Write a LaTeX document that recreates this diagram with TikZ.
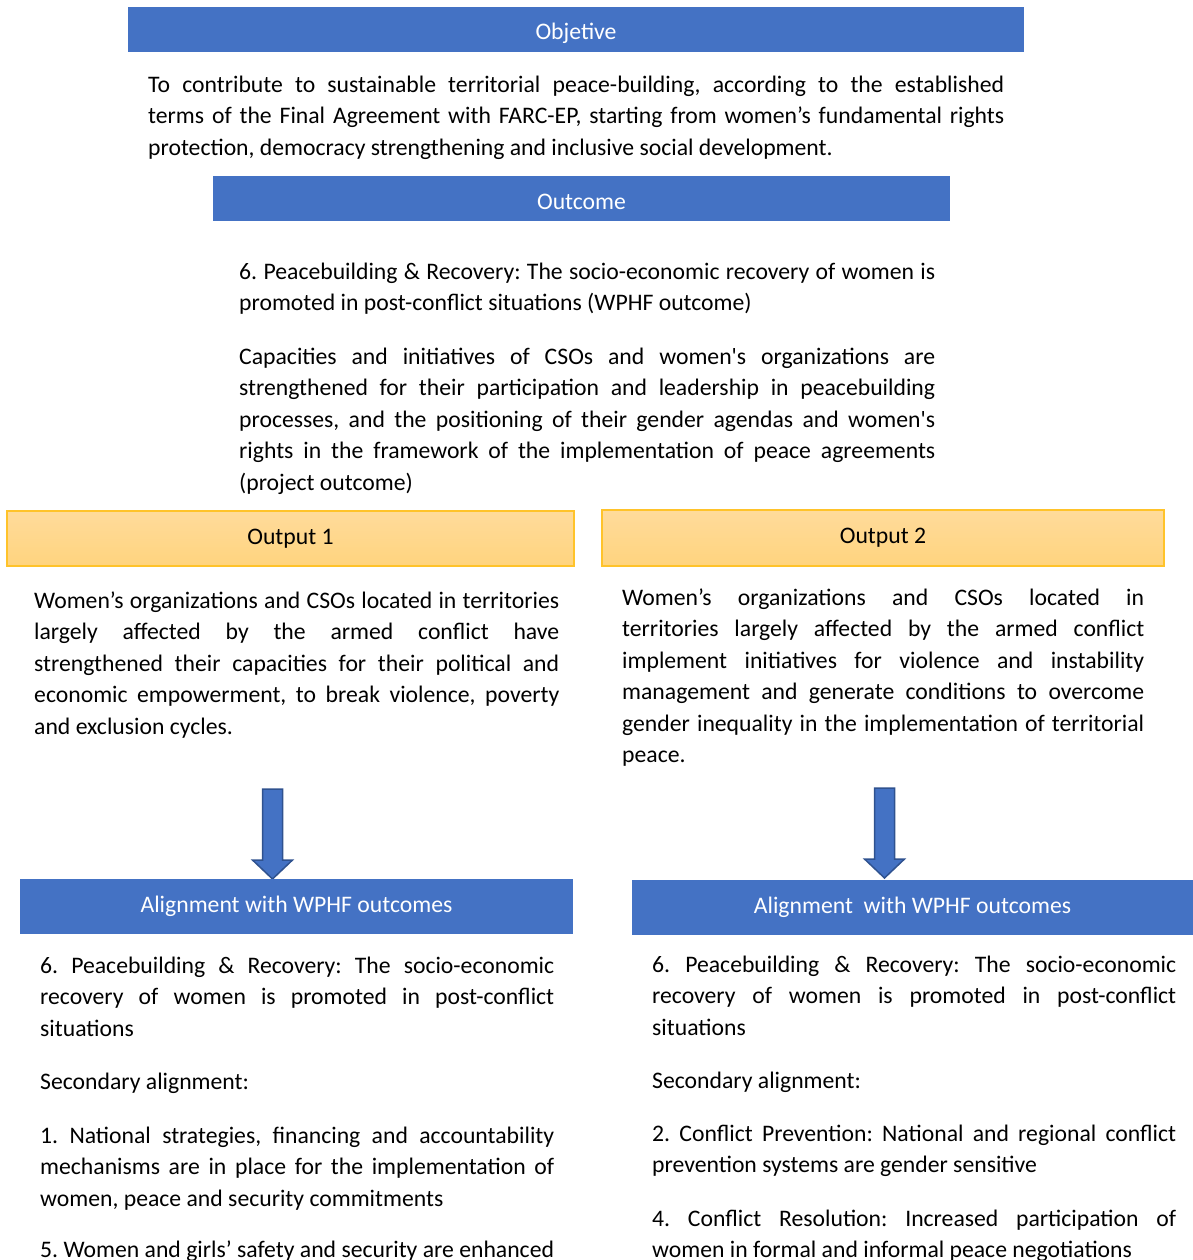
\documentclass[tikz,border=0pt]{standalone}
\usepackage{fontspec}
\setmainfont{Carlito}
\frenchspacing
\definecolor{barblue}{HTML}{4472C4}
\definecolor{arrowedge}{HTML}{2F528F}
\definecolor{outtop}{HTML}{FFDB9B}
\definecolor{outbot}{HTML}{FFD47E}
\definecolor{outedge}{HTML}{FFC32A}
\newcommand{\bodysize}{\fontsize{23.7}{31.5}\selectfont}

\begin{document}
\begin{tikzpicture}[x=1pt,y=-1pt,
    bluebar/.style={rectangle, fill=barblue, text=white, font=\bodysize, inner sep=0pt},
    outbar/.style={rectangle, draw=outedge, line width=1.2pt,
                   top color=outtop, bottom color=outbot, font=\bodysize, inner sep=0pt},
    para/.style={anchor=north west, inner sep=0pt, align=justify, font=\bodysize},
    blockarrow/.style={fill=barblue, draw=arrowedge, line width=1.5pt, line join=miter}]

    \useasboundingbox (0,0) rectangle (1193,1260);
    \clip (0,0) rectangle (1193,1260);

    % objective
    \node[bluebar,
          text height = 21pt,
          text depth = 0pt,
          minimum width = 896,
          minimum height = 45] (obj) at (576,29.5) {Objetive};
    \node[para, text width = 856] (objtxt) at (148,70)
    {\strut To contribute to sustainable territorial peace-building, according to the established\linebreak
     terms of the Final Agreement with FARC-EP, starting from women’s fundamental rights\linebreak
     protection, democracy strengthening and inclusive social development.};

    % outcome
    \node[bluebar,
          text height = 21pt,
          text depth = 0pt,
          minimum width = 737,
          minimum height = 45] (outc) at (581.5,198.5) {Outcome};
    \node[para, text width = 696] (outctxt) at (239,257)
    {\strut 6. Peacebuilding \& Recovery: The socio-economic recovery of women is\linebreak
     promoted in post-conflict situations (WPHF outcome)};
    \node[para, text width = 696] (projtxt) at (239,342)
    {\strut Capacities and initiatives of CSOs and women\textquotesingle s organizations are\linebreak
     strengthened for their participation and leadership in peacebuilding\linebreak
     processes, and the positioning of their gender agendas and women\textquotesingle s\linebreak
     rights in the framework of the implementation of peace agreements\linebreak
     (project outcome)};

    % outputs
    \node[outbar,
          minimum width = 567,
          minimum height = 55] (outA) at (290.5,538.5) {Output 1};
    \node[para, text width = 525] (outAtxt) at (34,586)
    {\strut Women’s organizations and CSOs located in territories\linebreak
     largely affected by the armed conflict have\linebreak
     strengthened their capacities for their political and\linebreak
     economic empowerment, to break violence, poverty\linebreak
     and exclusion cycles.};

    \node[outbar,
          minimum width = 562,
          minimum height = 56] (outB) at (883,538) {Output 2};
    \node[para, text width = 522] (outBtxt) at (622,583)
    {\strut Women’s organizations and CSOs located in\linebreak
     territories largely affected by the armed conflict\linebreak
     implement initiatives for violence and instability\linebreak
     management and generate conditions to overcome\linebreak
     gender inequality in the implementation of territorial\linebreak
     peace.};

    % arrows down to the alignment bars
    \coordinate (tipA) at (272.5,879);
    \coordinate (tipB) at (884.5,878);
    \draw[blockarrow] (tipA) -- ++(-20,-19) -- ++(10,0) -- ++(0,-71)
        -- ++(20,0) -- ++(0,71) -- ++(10,0) -- cycle;
    \draw[blockarrow] (tipB) -- ++(-20,-19) -- ++(10,0) -- ++(0,-71)
        -- ++(20,0) -- ++(0,71) -- ++(10,0) -- cycle;

    % alignment, left
    \node[bluebar,
          minimum width = 553,
          minimum height = 55] (alA) at (296.5,906.5) {Alignment with WPHF outcomes};
    \node[para, text width = 514] (alA1) at (40,951)
    {\strut 6. Peacebuilding \& Recovery: The socio-economic\linebreak
     recovery of women is promoted in post-conflict\linebreak
     situations};
    \node[para, text width = 514] (alA2) at (40,1067) {\strut Secondary alignment:};
    \node[para, text width = 514] (alA3) at (40,1121)
    {\strut 1. National strategies, financing and accountability\linebreak
     mechanisms are in place for the implementation of\linebreak
     women, peace and security commitments};
    \node[para, text width = 514] (alA4) at (40,1235)
    {\strut 5. Women and girls’ safety and security are enhanced};

    % alignment, right
    \node[bluebar,
          minimum width = 561,
          minimum height = 55] (alB) at (912.5,907.5) {Alignment\ \ with WPHF outcomes};
    \node[para, text width = 524] (alB1) at (652,950)
    {\strut 6. Peacebuilding \& Recovery: The socio-economic\linebreak
     recovery of women is promoted in post-conflict\linebreak
     situations};
    \node[para, text width = 524] (alB2) at (652,1066) {\strut Secondary alignment:};
    \node[para, text width = 524] (alB3) at (652,1119)
    {\strut 2. Conflict Prevention: National and regional conflict\linebreak
     prevention systems are gender sensitive};
    \node[para, text width = 524] (alB4) at (652,1204)
    {\strut 4. Conflict Resolution: Increased participation of\linebreak
     women in formal and informal peace negotiations};

\end{tikzpicture}
\end{document}
